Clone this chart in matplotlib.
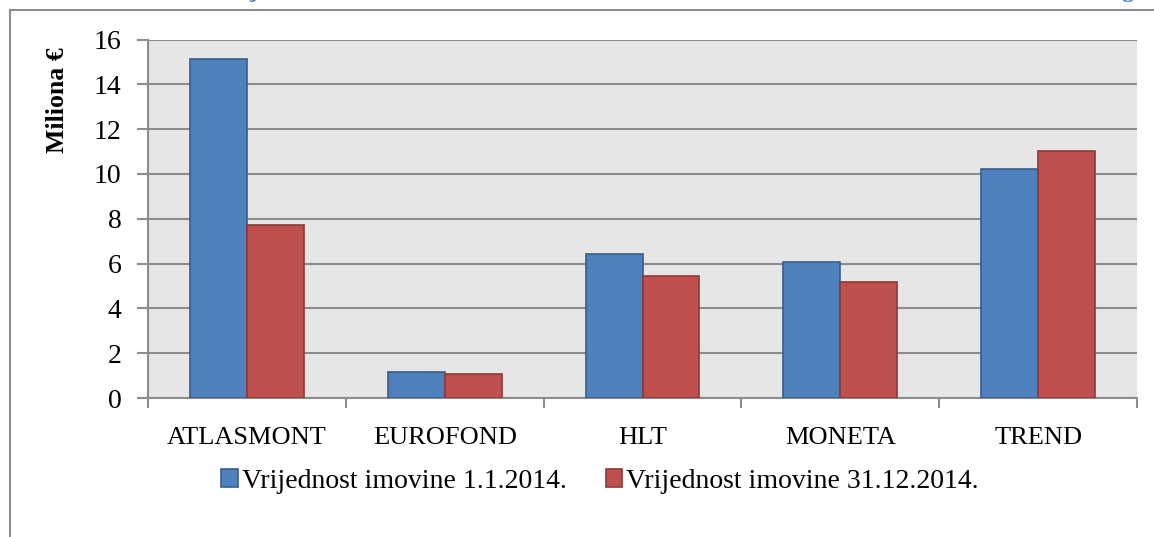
import matplotlib
matplotlib.use("Agg")
from matplotlib import pyplot as plt
from matplotlib.patches import Rectangle
import numpy as np

# data
fondovi = ["ATLASMONT", "EUROFOND", "HLT", "MONETA", "TREND"]
pocetak = [15.13, 1.14, 6.43, 6.08, 10.22]   # 1.1.2014.
kraj = [7.74, 1.07, 5.44, 5.16, 11.03]       # 31.12.2014.
serije = ["Vrijednost imovine 1.1.2014.", "Vrijednost imovine 31.12.2014."]
yticks = [0, 2, 4, 6, 8, 10, 12, 14, 16]

plt.rcParams['font.family'] = ['Liberation Serif', 'DejaVu Serif']

W, H = 1154, 537
fig = plt.figure(figsize=(W/100, H/100), dpi=100)

# outer chart frame (runs off the right and bottom edge)
fig.patches.append(Rectangle((10/W, -0.1), 1.2, 1 - 10/H + 0.1, transform=fig.transFigure,
                             fill=False, edgecolor='#8c8c8c', lw=1.5))
# title above is cropped away, only descenders show
fig.text(253/W, 1 + 3/H, "j", color='#4f81bd', fontsize=18, fontweight='bold', ha='center', va='baseline')
fig.text(1128/W, 1 + 3/H, "g", color='#4f81bd', fontsize=18, fontweight='bold', ha='center', va='baseline')

ax = fig.add_axes([148/W, (H-398)/H, 989/W, (398-39.5)/H])
ax.set_facecolor('#e6e6e6')

x = np.arange(len(fondovi))
bw = 0.288
ax.bar(x - bw/2, pocetak, bw, color='#4f81bd', edgecolor='#385d8a', lw=1.2, label=serije[0], zorder=3)
ax.bar(x + bw/2, kraj, bw, color='#c0504d', edgecolor='#8c3836', lw=1.2, label=serije[1], zorder=3)

ax.set_xlim(-0.5, len(fondovi) - 0.5)
ax.set_ylim(0, 16)
ax.set_yticks(yticks)
ax.yaxis.grid(True, color='#8c8c8c', lw=1.5, zorder=1)
ax.set_axisbelow(True)

ax.set_xticks(x)
ax.set_xticklabels(fondovi, fontsize=19)
ax.set_xticks(np.arange(len(fondovi) + 1) - 0.5, minor=True)
ax.tick_params(axis='x', which='major', length=0, pad=21)
ax.tick_params(axis='x', which='minor', length=7, width=1.5, color='#8c8c8c')
ax.tick_params(axis='y', length=8, width=1.5, color='#8c8c8c', labelsize=20, pad=11)

for s in ['top', 'right']:
    ax.spines[s].set_visible(False)
for s in ['left', 'bottom']:
    ax.spines[s].set_color('#8c8c8c')
    ax.spines[s].set_linewidth(1.5)

fig.text(58/W, 1 - 100/H, "Miliona €", rotation=90, fontsize=18.5, fontweight='bold',
         ha='center', va='center')

fig.legend(loc='center', bbox_to_anchor=(600/W, 1 - 481/H), ncol=2, frameon=False,
           fontsize=20, handlelength=0.6, handleheight=0.6, handletextpad=0.15,
           columnspacing=1.4)

fig.savefig("out.png", dpi=100)
